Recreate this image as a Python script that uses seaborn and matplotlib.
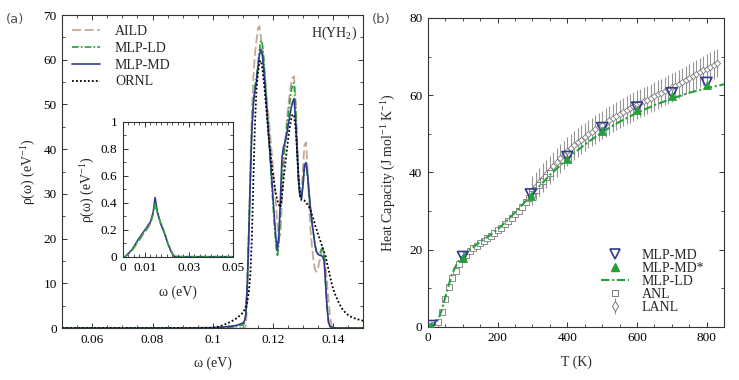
import numpy as np
import seaborn as sns
import matplotlib.pyplot as plt
from matplotlib.ticker import MultipleLocator
from matplotlib.lines import Line2D

# ---- panel (a): phonon DOS of H in YH2 ----
OMEGA = [0.050, 0.090, 0.100, 0.102, 0.104, 0.106, 0.108, 0.110, 0.1105,
         0.1110, 0.1115, 0.1120, 0.1125, 0.1130, 0.1135, 0.1140, 0.1145, 0.1150,
         0.1155, 0.1160, 0.1165, 0.1170, 0.1175, 0.1180, 0.1185, 0.1190, 0.1195,
         0.1200, 0.1205, 0.1210, 0.1215, 0.1220, 0.1225, 0.1230, 0.1235, 0.1240,
         0.1245, 0.1250, 0.1255, 0.1260, 0.1265, 0.1270, 0.1275, 0.1280, 0.1285,
         0.1290, 0.1295, 0.1300, 0.1305, 0.1310, 0.1315, 0.1320, 0.1325, 0.1330,
         0.1335, 0.1340, 0.1345, 0.1350, 0.1355, 0.1360, 0.1365, 0.1370, 0.1375,
         0.1380, 0.1385, 0.1390, 0.1395, 0.1400, 0.1405, 0.1410, 0.1420, 0.1430,
         0.1440, 0.1450, 0.1460, 0.1470, 0.1480, 0.1490, 0.1500]

AILD = [0, 0, 0, 0, 0, 0, 0, 0, 0,
        0.5, 6, 20, 36, 48, 56, 61, 64, 67,
        67.5, 65, 62.5, 59, 55, 51, 47.5, 44, 40,
        36, 32, 28, 23, 20, 21, 28, 35, 41,
        45.5, 49, 52, 54.5, 56, 56.3, 52, 43, 34,
        29, 30, 36, 41, 41.5, 36, 28, 22, 18,
        15, 13, 12.6, 13.5, 15, 16.5, 17.5, 17, 14,
        10, 6, 2.5, 0.5, 0, 0, 0, 0, 0,
        0, 0, 0, 0, 0, 0, 0]

MLP_LD = [0, 0, 0.05, 0.1, 0.15, 0.2, 0.35, 0.7, 1.0,
          3, 11, 22, 34, 45, 51, 54, 56, 59,
          62, 64.3, 63.5, 60, 55, 49.5, 44, 38.5, 33,
          28, 23, 18.5, 16, 19, 27, 34, 38, 41,
          44, 47, 50, 52.5, 54.5, 54.8, 50, 41, 33,
          29.5, 29, 32, 36, 36.5, 34, 30, 26.5, 23.5,
          21, 18.5, 17, 16.5, 16.5, 17.5, 18, 16, 10,
          4.5, 1.2, 0.2, 0.1, 0, 0, 0, 0, 0,
          0, 0, 0, 0, 0, 0, 0]

MLP_MD = [0, 0, 0.1, 0.15, 0.25, 0.4, 0.6, 1.1, 1.5,
          3, 10, 21, 33, 44, 50, 53, 55, 58,
          61, 62.3, 61, 57.5, 53, 48.5, 44, 39.5, 34.5,
          29.5, 24.5, 20, 17.4, 21, 29, 38, 40.5, 41.5,
          43, 45, 47, 49, 50.5, 51.3, 47, 40, 33,
          29.5, 29, 32, 36.5, 37, 34.5, 30.5, 26.5, 23.5,
          21, 18.5, 17, 16.5, 16.3, 16.2, 16, 15, 10,
          4.5, 1.2, 0.3, 0.2, 0.1, 0.05, 0, 0, 0,
          0, 0, 0, 0, 0, 0, 0]

ORNL = [0, 0, 0, 0.3, 0.8, 1.4, 2.2, 3.4, 4.0,
        4.8, 6.0, 8.0, 12, 20, 33, 45, 53, 57,
        59.5, 59.8, 58, 55, 51.5, 47.5, 43.5, 40, 37,
        34.5, 32, 30, 28.5, 27.5, 27, 29.5, 33, 36,
        39, 42, 44.5, 46.5, 47.8, 47.5, 45, 40, 34,
        30, 28.6, 28.6, 28.5, 28, 27.6, 27.1, 26.3, 25.3,
        24.3, 23, 22, 21, 20, 19, 18, 17, 16,
        14.5, 13, 11.5, 10, 8.8, 7.8, 7, 5.5, 4.3,
        3.5, 2.9, 2.5, 2.2, 2.0, 1.8, 1.6]

# inset: acoustic (Y) part
OMEGA_IN = [0.000, 0.001, 0.004, 0.007, 0.010, 0.0125, 0.0137, 0.0146, 0.0157,
            0.0172, 0.0188, 0.0203, 0.0218, 0.0234, 0.030, 0.050]
AILD_IN = [0, 0, 0.04, 0.11, 0.18, 0.24, 0.31, 0.38, 0.32,
           0.25, 0.19, 0.11, 0.045, 0.005, 0, 0]
MLP_LD_IN = [0, 0, 0.05, 0.12, 0.19, 0.25, 0.32, 0.40, 0.32,
             0.245, 0.18, 0.105, 0.04, 0, 0, 0]
MLP_MD_IN = [0, 0, 0.05, 0.13, 0.20, 0.26, 0.33, 0.44, 0.33,
             0.24, 0.175, 0.10, 0.04, 0, 0, 0]

# ---- panel (b): heat capacity ----
T_MD = [8, 100, 295, 400, 500, 600, 700, 800]
CP_MD = [0.2, 18.1, 34.3, 44.0, 51.5, 56.8, 60.5, 63.2]
CP_MD_STAR = [0.1, 17.7, 33.8, 43.4, 50.8, 56.1, 59.9, 62.6]

T_LD = [0, 10, 20, 30, 40, 50, 60, 70, 80, 90, 100, 125, 150, 175, 200, 225,
        250, 275, 300, 350, 400, 450, 500, 550, 600, 650, 700, 750, 800, 850]
CP_LD = [0, 0.1, 0.6, 2.0, 4.5, 7.8, 11.0, 13.8, 15.8, 17.2, 18.3, 20.3, 22.0,
         23.5, 25.2, 27.3, 29.6, 32.0, 34.5, 39.3, 43.5, 47.2, 50.4, 53.1,
         55.4, 57.4, 59.1, 60.6, 61.8, 62.8]

T_ANL = [10, 20, 30, 40, 50, 60, 70, 80, 90, 100, 110, 120, 130, 140, 150,
         160, 170, 180, 190, 200, 210, 220, 230, 240, 250, 260, 270, 280, 290,
         300, 310, 320, 330, 340, 350]
CP_ANL = [0.1, 0.5, 1.3, 3.8, 7.2, 10.2, 12.6, 14.5, 16.2, 17.6, 18.6, 19.5,
          20.3, 21.0, 21.7, 22.3, 22.9, 23.6, 24.3, 25.0, 25.7, 26.5, 27.3,
          28.2, 29.1, 30.1, 31.1, 32.2, 33.3, 34.4, 35.5, 36.6, 37.7, 38.7, 39.7]

T_LANL = [300, 310, 320, 330, 340, 350, 360, 370, 380, 390, 400, 410, 420, 430,
          440, 450, 460, 470, 480, 490, 500, 510, 520, 530, 540, 550, 560, 570,
          580, 590, 600, 610, 620, 630, 640, 650, 660, 670, 680, 690, 700, 710,
          720, 730, 740, 750, 760, 770, 780, 790, 800, 810, 820, 830]
CP_LANL = [35.3, 36.4, 37.5, 38.6, 39.6, 40.6, 41.6, 42.6, 43.6, 44.5, 45.4,
           46.2, 47.0, 47.8, 48.5, 49.2, 49.9, 50.5, 51.1, 51.7, 52.3, 52.9,
           53.5, 54.1, 54.6, 55.1, 55.6, 56.1, 56.6, 57.1, 57.6, 58.0, 58.4,
           58.8, 59.3, 59.7, 60.2, 60.6, 61.1, 61.5, 62.0, 62.4, 62.9, 63.4,
           63.9, 64.4, 64.9, 65.4, 65.9, 66.4, 66.9, 67.4, 67.9, 68.3]
LANL_ERR = 3.7

TAN = "#c4aa96"
GREEN = "#23a03a"
NAVY = "#2f3a8c"
GRAY = "#7a7a7a"

sns.set_theme(style="ticks")
plt.rcParams["font.family"] = ["Liberation Serif", "DejaVu Serif"]
plt.rcParams["mathtext.fontset"] = "custom"
plt.rcParams["mathtext.rm"] = "Liberation Serif"
plt.rcParams["mathtext.it"] = "Liberation Serif:italic"
plt.rcParams["font.size"] = 9.5
plt.rcParams["axes.edgecolor"] = "#333333"
plt.rcParams["axes.linewidth"] = 0.8


def style_axes(ax, fs=9.5):
    ax.tick_params(which="both", direction="in", top=True, right=True,
                   labelsize=fs, colors="#333333", labelcolor="black")
    ax.tick_params(which="major", length=3.5, width=0.7, pad=4)
    ax.tick_params(which="minor", length=2, width=0.6)


fig = plt.figure(figsize=(7.39, 3.80), dpi=100)
ax_a = fig.add_axes([0.0842, 0.1368, 0.4073, 0.8237])
ax_b = fig.add_axes([0.5792, 0.1403, 0.4005, 0.8124])
ins = fig.add_axes([0.1664, 0.3245, 0.1489, 0.3545])

# panel (a)
sns.lineplot(x=OMEGA, y=AILD, ax=ax_a, color=TAN, lw=1.3,
             linestyle=(0, (5, 2)), errorbar=None, label="AILD")
sns.lineplot(x=OMEGA, y=MLP_LD, ax=ax_a, color=GREEN, lw=1.2,
             linestyle=(0, (4, 1.3, 1, 1.3)), errorbar=None, label="MLP-LD")
sns.lineplot(x=OMEGA, y=MLP_MD, ax=ax_a, color=NAVY, lw=1.2,
             errorbar=None, label="MLP-MD")
sns.lineplot(x=OMEGA, y=ORNL, ax=ax_a, color="black", lw=1.3,
             linestyle=(0, (1, 1.2)), errorbar=None, label="ORNL")
ax_a.set_xlim(0.05, 0.15)
ax_a.set_ylim(0, 70)
ax_a.xaxis.set_minor_locator(MultipleLocator(0.005))
ax_a.yaxis.set_major_locator(MultipleLocator(10))
ax_a.yaxis.set_minor_locator(MultipleLocator(5))
ax_a.set_xticks([0.06, 0.08, 0.1, 0.12, 0.14])
ax_a.set_xticklabels(["0.06", "0.08", "0.1", "0.12", "0.14"])
style_axes(ax_a)
ax_a.set_xlabel("ω (eV)", fontsize=10, labelpad=8)
ax_a.set_ylabel("ρ(ω) (eV$^{-1}$)", fontsize=10, labelpad=4)
ax_a.legend(loc="upper left", frameon=False, fontsize=10, handlelength=2.0,
            handletextpad=1.1, labelspacing=0.28, borderaxespad=0.3,
            bbox_to_anchor=(0.0, 1.0))
ax_a.text(0.978, 0.94, "H(YH$_2$)", transform=ax_a.transAxes, ha="right",
          va="center", fontsize=10)

# inset
sns.lineplot(x=OMEGA_IN, y=AILD_IN, ax=ins, color=TAN, lw=1.2,
             linestyle=(0, (5, 2)), errorbar=None)
sns.lineplot(x=OMEGA_IN, y=MLP_MD_IN, ax=ins, color=NAVY, lw=1.1,
             errorbar=None)
sns.lineplot(x=OMEGA_IN, y=MLP_LD_IN, ax=ins, color=GREEN, lw=1.1,
             linestyle=(0, (4, 1.3, 1, 1.3)), errorbar=None)
ins.set_facecolor("white")
ins.set_xlim(0, 0.05)
ins.set_ylim(0, 1)
ins.set_xticks([0, 0.01, 0.03, 0.05])
ins.set_xticklabels(["0", "0.01", "0.03", "0.05"])
ins.xaxis.set_minor_locator(MultipleLocator(0.0025))
ins.yaxis.set_minor_locator(MultipleLocator(0.1))
ins.set_yticks([0, 0.2, 0.4, 0.6, 0.8, 1])
ins.set_yticklabels(["0", "0.2", "0.4", "0.6", "0.8", "1"])
style_axes(ins, fs=9.5)
ins.set_xlabel("ω (eV)", fontsize=10, labelpad=8)
ins.set_ylabel("ρ(ω) (eV$^{-1}$)", fontsize=10, labelpad=3)

# panel (b)
ax_b.errorbar(T_LANL, CP_LANL, yerr=LANL_ERR, fmt="none", ecolor="#959595",
              elinewidth=0.8, capsize=0, zorder=1)
sns.scatterplot(x=T_LANL, y=CP_LANL, ax=ax_b, marker="D", s=10,
                facecolor="white", edgecolor=GRAY, linewidth=0.6, zorder=2)
sns.scatterplot(x=T_ANL, y=CP_ANL, ax=ax_b, marker="s", s=14,
                facecolor="white", edgecolor=GRAY, linewidth=0.6, zorder=2)
sns.lineplot(x=T_LD, y=CP_LD, ax=ax_b, color=GREEN, lw=1.5,
             linestyle=(0, (4, 1.3, 1, 1.3)), errorbar=None, zorder=3)
sns.scatterplot(x=T_MD, y=CP_MD, ax=ax_b, marker="v", s=60,
                facecolor="none", edgecolor=NAVY, linewidth=1.2, zorder=4)
sns.scatterplot(x=T_MD, y=CP_MD_STAR, ax=ax_b, marker="^", s=34,
                color=GREEN, edgecolor=GREEN, linewidth=0.5, zorder=5)
ax_b.set_xlim(0, 850)
ax_b.set_ylim(0, 80)
ax_b.xaxis.set_major_locator(MultipleLocator(200))
ax_b.xaxis.set_minor_locator(MultipleLocator(50))
ax_b.yaxis.set_major_locator(MultipleLocator(20))
ax_b.yaxis.set_minor_locator(MultipleLocator(10))
style_axes(ax_b)
ax_b.set_xlabel("T (K)", fontsize=10, labelpad=8)
ax_b.set_ylabel("Heat Capacity (J mol$^{-1}$ K$^{-1}$)", fontsize=10, labelpad=8)

h_md = Line2D([], [], ls="none", marker="v", ms=7, mfc="none", mec=NAVY, mew=1.2)
h_mds = Line2D([], [], ls="none", marker="^", ms=6, mfc=GREEN, mec=GREEN)
h_ld = Line2D([], [], color=GREEN, lw=1.5, ls=(0, (4, 1.3, 1, 1.3)))
h_anl = Line2D([], [], ls="none", marker="s", ms=4, mfc="white", mec=GRAY, mew=0.7)
h_lanl = Line2D([], [], ls="none", marker="d", ms=5, mfc="white", mec=GRAY, mew=0.7)
h_bar = Line2D([], [], ls="none", marker="|", ms=11, mec="#959595", mew=0.8)
ax_b.legend([h_md, h_mds, h_ld, h_anl, (h_bar, h_lanl)],
            ["MLP-MD", "MLP-MD*", "MLP-LD", "ANL", "LANL"],
            loc="lower right", bbox_to_anchor=(0.975, 0.0), frameon=False,
            fontsize=10, handlelength=2.0, handletextpad=0.9, labelspacing=0.0)

fig.text(0.008, 0.94, "(a)", fontsize=9.5, color="#555555", family="DejaVu Sans")
fig.text(0.503, 0.94, "(b)", fontsize=9.5, color="#555555", family="DejaVu Sans")

fig.savefig("out.png", dpi=100)
